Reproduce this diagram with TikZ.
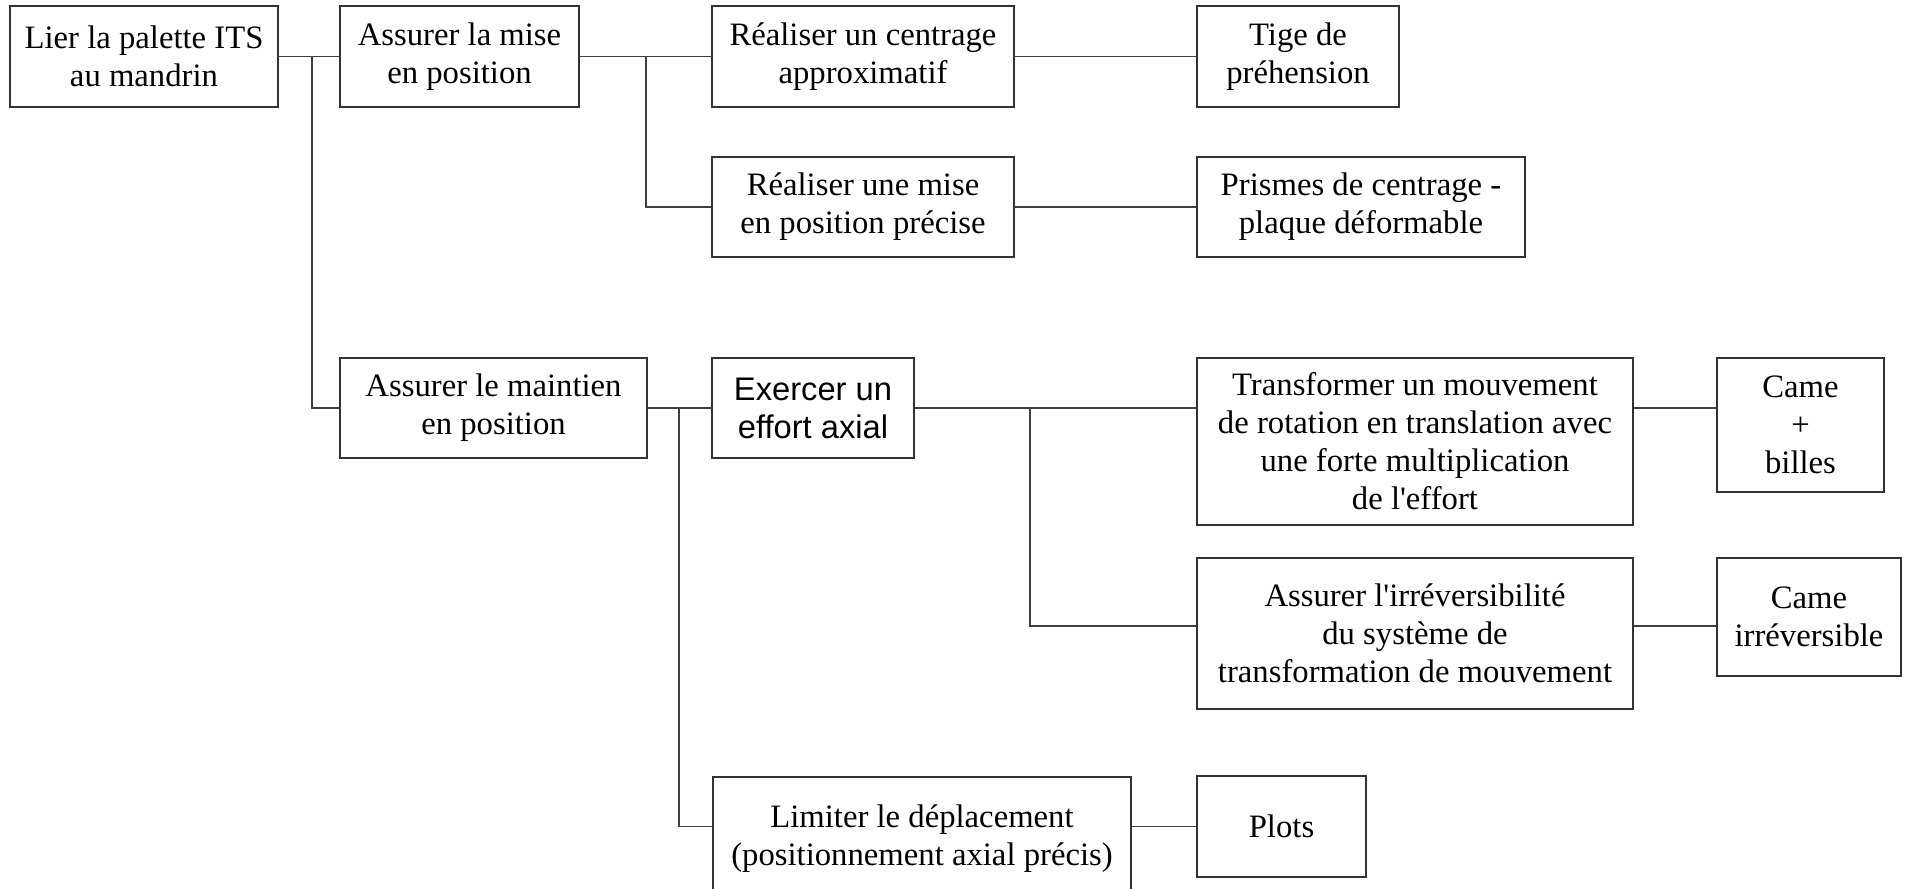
\documentclass[tikz,border=0pt]{standalone}
\usepackage{fontspec}
\setmainfont{Liberation Serif}
\newfontfamily\arialfont{Liberation Sans}
\newcommand\placebox[6]{%
  \node[box, minimum width={(#4-#2)*1pt}, minimum height={(#5-#3)*1pt}] (#1) at ({(#2+#4)/2},{(#3+#5)/2}) {#6};}
\begin{document}
\begin{tikzpicture}[x=1pt,y=-1pt,
  box/.style={draw=black!80, line width=1.1pt, inner sep=0pt, align=center,
    font=\fontsize{32.7}{38}\selectfont},
  sansbox/.style={font=\arialfont\fontsize{32.7}{38}\selectfont},
  conn/.style={draw=black!75, line width=1.1pt}]
\useasboundingbox (0,0) rectangle (1907,889);
\clip (0,0) rectangle (1907,889);

\placebox{A}{10}{6}{278}{107}{Lier la palette ITS\\au mandrin}
\placebox{B}{340}{6}{579}{107}{Assurer la mise\\en position}
\placebox{C}{712}{6}{1014}{107}{Réaliser un centrage\\approximatif}
\placebox{D}{1197}{6}{1399}{107}{Tige de\\préhension}
\placebox{E}{712}{157}{1014}{257}{Réaliser une mise\\en position précise}
\placebox{F}{1197}{157}{1525}{257}{Prismes de centrage -\\plaque déformable}
\placebox{G}{340}{358}{647}{458}{Assurer le maintien\\en position}
\node[box, sansbox, minimum width=202pt, minimum height=100pt] (H) at (813,408) {Exercer un\\effort axial};
\placebox{I}{1197}{358}{1633}{525}{Transformer un mouvement\\de rotation en translation avec\\une forte multiplication\\de l\textquotesingle effort}
\placebox{J}{1717}{358}{1884}{492}{Came\\+\\billes}
\placebox{K}{1197}{558}{1633}{709}{Assurer l\textquotesingle irréversibilité\\du système de\\transformation de mouvement}
\placebox{L}{1717}{558}{1901}{676}{Came\\irréversible}
\placebox{M}{713}{777}{1131}{900}{Limiter le déplacement\\(positionnement axial précis)}
\placebox{N}{1197}{776}{1366}{877}{Plots}

\coordinate (j1) at (312,56.5);
\coordinate (j2) at (646,56.5);
\coordinate (j3) at (679,408);
\coordinate (j4) at (1030,408);
\coordinate (kl) at (1030,626);

\draw[conn] (A.east) -- (B.west);
\draw[conn] (j1) |- (G.west);
\draw[conn] (B.east) -- (C.west);
\draw[conn] (j2) |- (E.west);
\draw[conn] (C.east) -- (D.west);
\draw[conn] (E.east) -- (F.west);
\draw[conn] (G.east) -- (H.west);
\draw[conn] (j3) |- (M.west |- N.west);
\draw[conn] (M.east |- N.west) -- (N.west);
\draw[conn] (H.east) -- (I.west |- H.east);
\draw[conn] (I.east |- H.east) -- (J.west |- H.east);
\draw[conn] (j4) -- (kl) -- (K.west |- kl);
\draw[conn] (K.east |- kl) -- (L.west |- kl);
\end{tikzpicture}
\end{document}
